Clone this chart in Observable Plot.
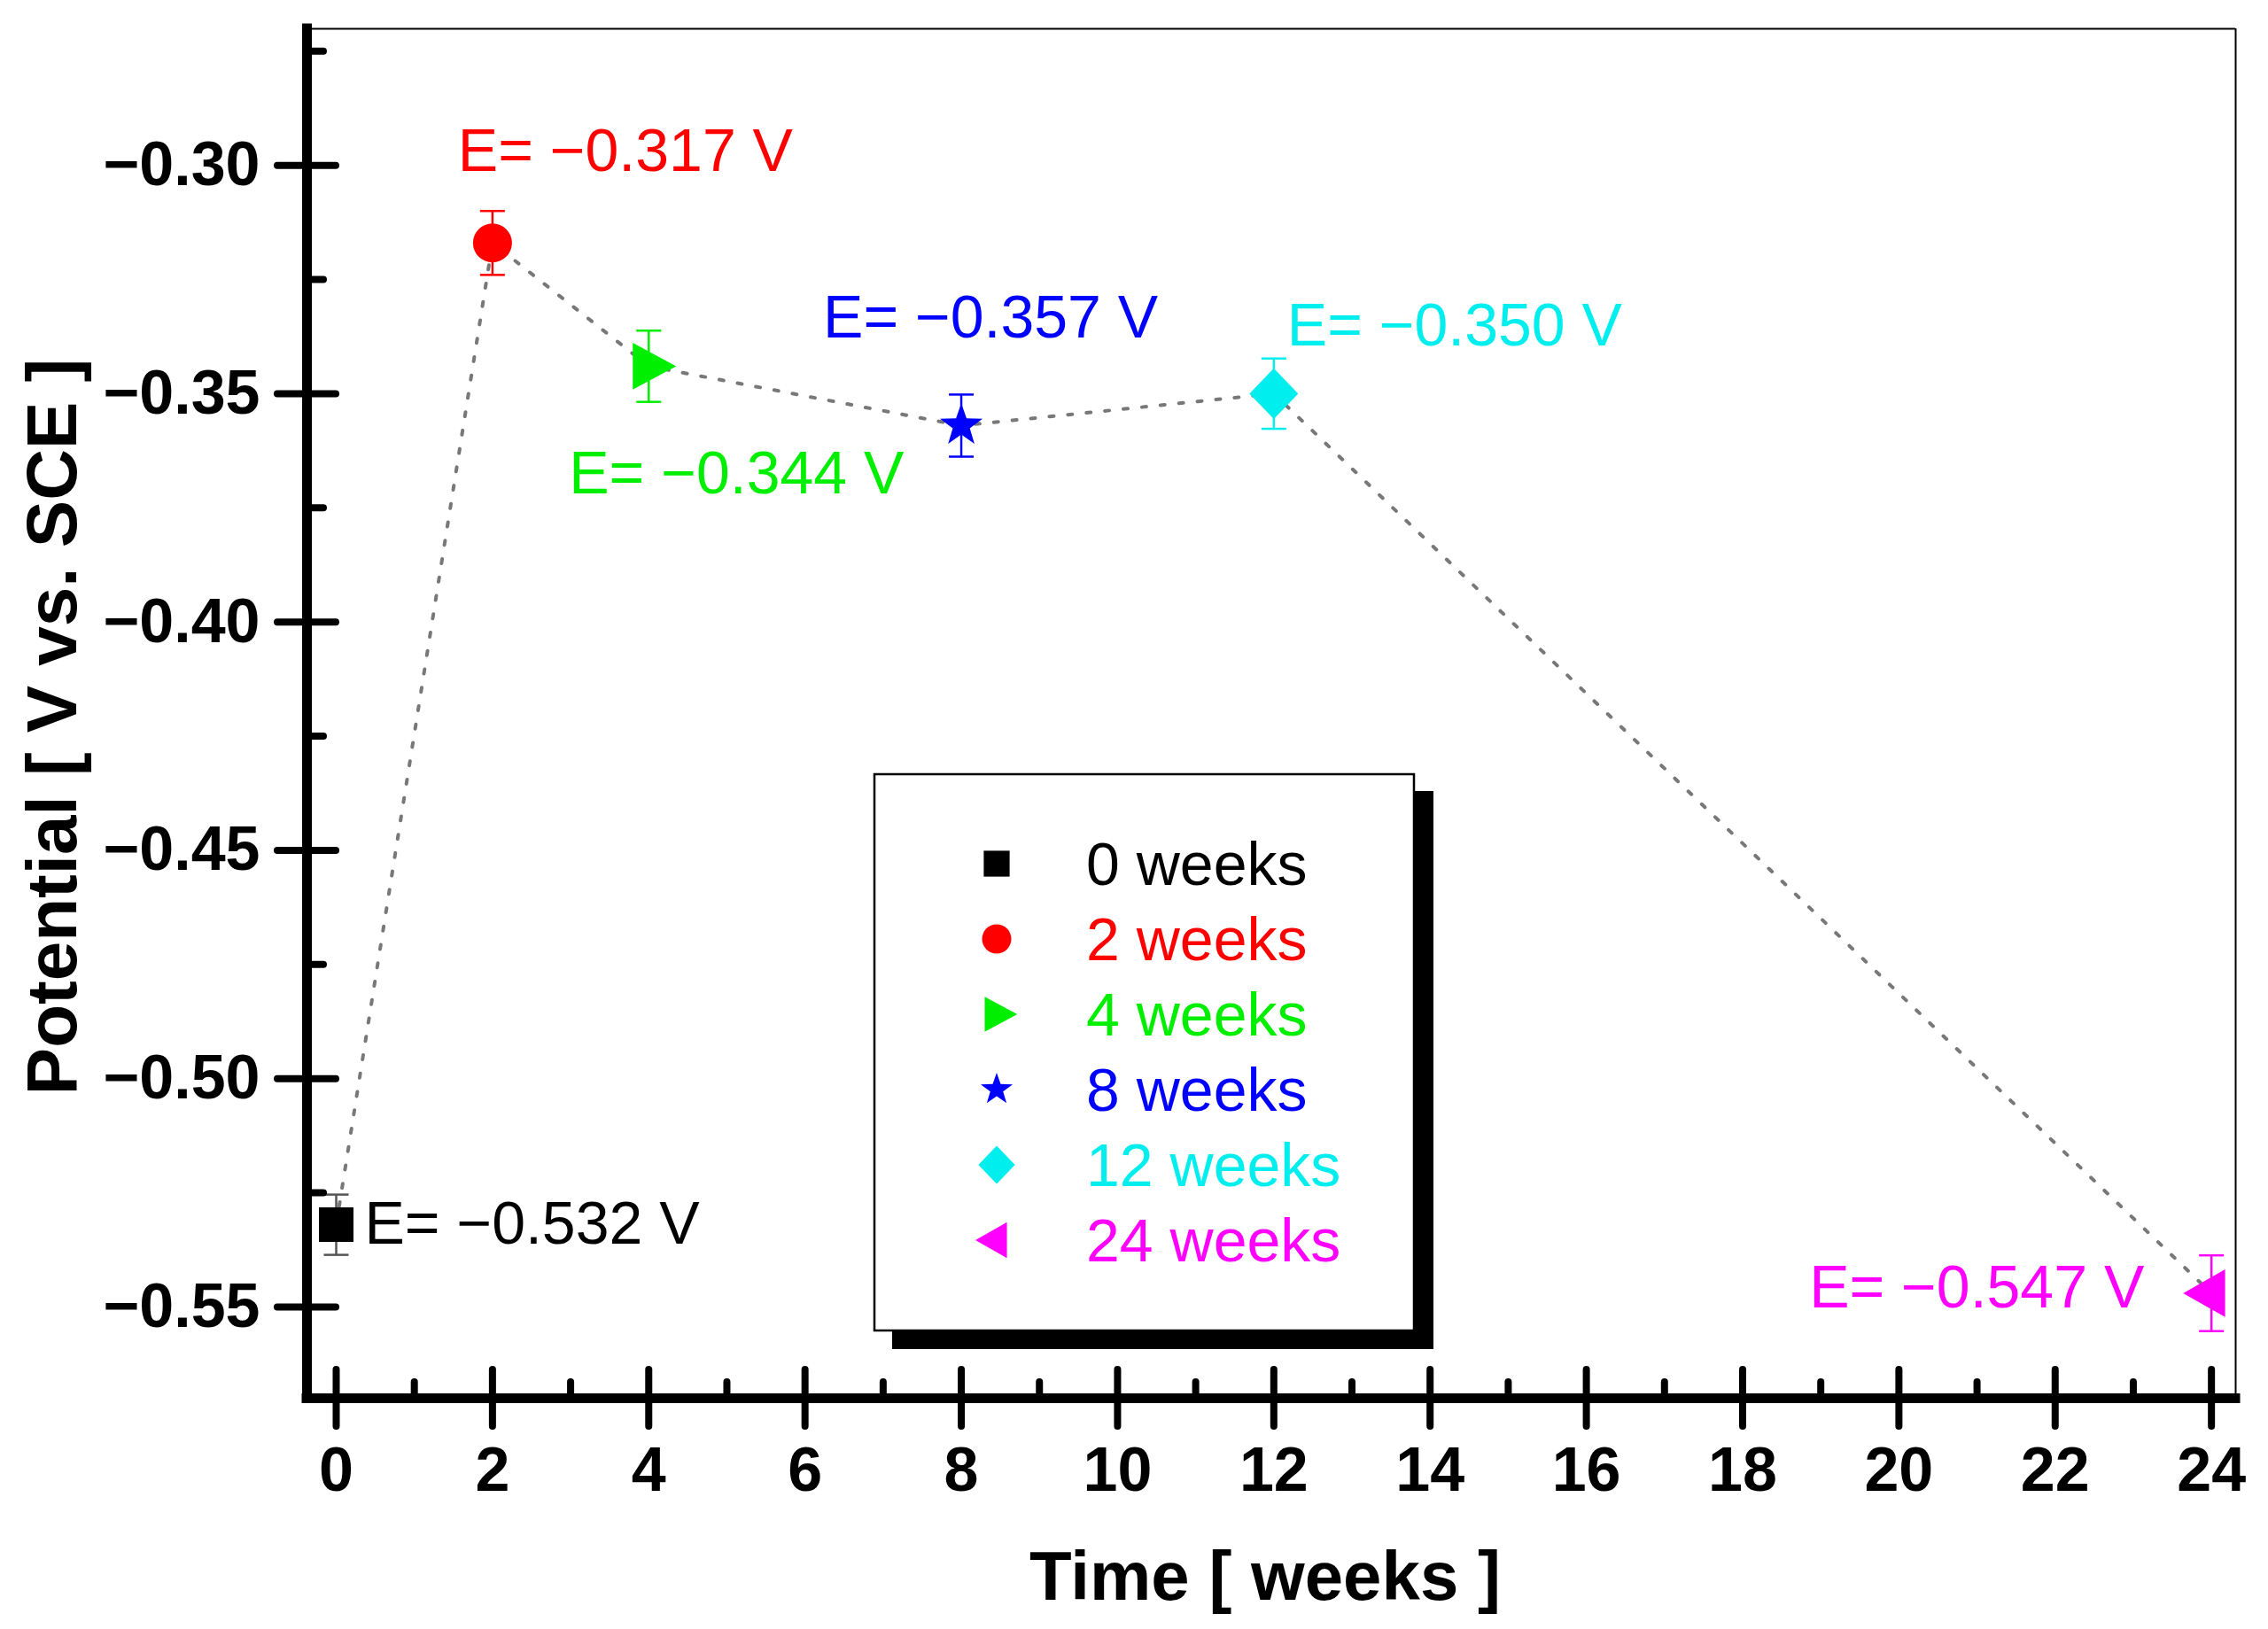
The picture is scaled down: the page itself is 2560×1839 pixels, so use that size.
<!DOCTYPE html>
<html>
<head>
<meta charset="utf-8">
<script src="https://cdn.jsdelivr.net/npm/d3@7"></script>
<script src="https://cdn.jsdelivr.net/npm/@observablehq/plot@0.6"></script>
<style>
  html, body { margin: 0; padding: 0; background: #ffffff; }
  #chart svg { display: block; }
</style>
</head>
<body>
<div id="chart"></div>
<script>
// ---------------- data ----------------
const weeks = [0, 2, 4, 8, 12, 24];
const potential = [-0.532, -0.317, -0.344, -0.357, -0.350, -0.547];
const potentialError = [0.0066, 0.0070, 0.0078, 0.0068, 0.0077, 0.0083];
const seriesNames = ["0 weeks", "2 weeks", "4 weeks", "8 weeks", "12 weeks", "24 weeks"];
const annotations = ["E= −0.532 V", "E= −0.317 V", "E= −0.344 V", "E= −0.357 V", "E= −0.350 V", "E= −0.547 V"];
const xTicks = [0, 2, 4, 6, 8, 10, 12, 14, 16, 18, 20, 22, 24];
const xMinorTicks = [1, 3, 5, 7, 9, 11, 13, 15, 17, 19, 21, 23];
const yTicks = [-0.55, -0.50, -0.45, -0.40, -0.35, -0.30];
const yMinorTicks = [-0.525, -0.475, -0.425, -0.375, -0.325, -0.275];
const xDomain = [-0.374, 24.31];
const yDomain = [-0.570, -0.2701];
const xTitle = "Time [ weeks ]";
const yTitle = "Potential [ V vs. SCE ]";

// ---------------- styles ----------------
const colors = ["#000000", "#ff0000", "#00ee00", "#0000ff", "#00eeee", "#ff00ff"];
const errColors = ["#555555", "#ff0000", "#00ee00", "#0000ff", "#00eeee", "#ff00ff"];
const labelOffsets = [[32, 21], [-39, -81], [-90, 144], [-156, -99], [15, -54], [-454, 16]];

function polySymbol(pts) {
  return {
    draw(ctx, size) {
      const r = Math.sqrt(size / Math.PI);
      ctx.moveTo(pts[0][0] * r, pts[0][1] * r);
      for (let k = 1; k < pts.length; ++k) ctx.lineTo(pts[k][0] * r, pts[k][1] * r);
      ctx.closePath();
    }
  };
}
const triRight = polySymbol([[-0.82, -1.2], [1.41, 0], [-0.82, 1.2]]);
const triLeft = polySymbol([[0.7, -1.22], [-1.45, 0], [0.7, 1.22]]);
const diamond = polySymbol([[0, -1.3], [1.25, 0], [0, 1.3], [-1.25, 0]]);
const starPts = d3.range(10).map(k => {
  const a = -Math.PI / 2 + k * Math.PI / 5;
  const rr = k % 2 === 0 ? 1.15 : 0.46;
  return [rr * Math.cos(a), rr * Math.sin(a)];
});
const star = polySymbol(starPts);
const capSymbol = {
  draw(ctx, size) {
    const r = Math.sqrt(size / Math.PI);
    ctx.moveTo(-r, 0);
    ctx.lineTo(r, 0);
  }
};
const symbols = [d3.symbolSquare, d3.symbolCircle, triRight, star, diamond, triLeft];

const idx = d3.range(weeks.length);
const X = i => weeks[i];
const Y = i => potential[i];

const marks = [
  // thin top/right border
  Plot.ruleY([yDomain[1]], {stroke: "#000", strokeWidth: 2}),
  Plot.ruleX([xDomain[1]], {stroke: "#000", strokeWidth: 2}),
  // dotted connecting line
  Plot.line(idx, {x: X, y: Y, stroke: "#787878", strokeWidth: 4, strokeDasharray: "5,16"}),
  // error bars
  Plot.ruleX(idx, {x: X, y1: i => potential[i] - potentialError[i], y2: i => potential[i] + potentialError[i],
    stroke: i => errColors[i], strokeWidth: 2.5}),
  Plot.dot(idx, {x: X, y: i => potential[i] + potentialError[i], symbol: capSymbol, r: 14,
    fill: "none", stroke: i => errColors[i], strokeWidth: 2.5}),
  Plot.dot(idx, {x: X, y: i => potential[i] - potentialError[i], symbol: capSymbol, r: 14,
    fill: "none", stroke: i => errColors[i], strokeWidth: 2.5}),
  // points
  ...idx.map(i => Plot.dot([i], {x: X, y: Y, symbol: symbols[i], r: 22, fill: colors[i], stroke: "none"})),
  // annotations
  ...idx.map(i => Plot.text([i], {x: X, y: Y, text: j => annotations[j], fill: colors[i],
    fontSize: 68, textAnchor: "start", lineAnchor: "bottom", dx: labelOffsets[i][0], dy: labelOffsets[i][1]})),
  // axes
  Plot.axisX(xTicks, {anchor: "bottom", tickSize: 32, tickPadding: 23, strokeWidth: 8, strokeLinecap: "round",
    fontSize: 70, fontWeight: "bold", tickFormat: d => String(d), label: null}),
  Plot.axisX(xTicks, {anchor: "bottom", tickSize: -32, strokeWidth: 8, strokeLinecap: "round",
    tickFormat: () => "", label: null}),
  Plot.axisX(xMinorTicks, {anchor: "bottom", tickSize: -18, strokeWidth: 8, strokeLinecap: "round",
    tickFormat: () => "", label: null}),
  Plot.axisY(yTicks, {anchor: "left", tickSize: 33, tickPadding: 20, strokeWidth: 8, strokeLinecap: "round",
    fontSize: 70, fontWeight: "bold", tickFormat: d3.format(".2f"), label: null}),
  Plot.axisY(yTicks, {anchor: "left", tickSize: -33, strokeWidth: 8, strokeLinecap: "round",
    tickFormat: () => "", label: null}),
  Plot.axisY(yMinorTicks, {anchor: "left", tickSize: -19, strokeWidth: 8, strokeLinecap: "round",
    tickFormat: () => "", label: null}),
  // thick axis lines
  Plot.ruleX([xDomain[0]], {stroke: "#000", strokeWidth: 11, strokeLinecap: "square"}),
  Plot.ruleY([yDomain[0]], {stroke: "#000", strokeWidth: 11, strokeLinecap: "square"}),
  // axis titles
  Plot.text([yTitle], {text: d => d, frameAnchor: "left", rotate: -90, dx: -261, dy: 15,
    fontSize: 80, fontWeight: "bold", textAnchor: "middle", lineAnchor: "bottom", fill: "#000"}),
  Plot.text([xTitle], {text: d => d, frameAnchor: "bottom", dx: -7, dy: 227,
    fontSize: 78, fontWeight: "bold", textAnchor: "middle", lineAnchor: "bottom", fill: "#000"})
];

const chart = Plot.plot({
  width: 2560,
  height: 1839,
  marginLeft: 346,
  marginRight: 37,
  marginTop: 32,
  marginBottom: 261,
  x: {domain: xDomain},
  y: {domain: yDomain},
  color: {type: "identity"},
  style: {fontFamily: "'Liberation Sans', Arial, sans-serif", background: "#ffffff", overflow: "visible"},
  marks
});

document.getElementById("chart").appendChild(chart);

// ---------------- legend (inside the plot) ----------------
const svg = d3.select(chart.tagName.toLowerCase() === "svg" ? chart : chart.querySelector("svg"));
const lg = svg.append("g").attr("class", "legend").attr("text-anchor", "start");
lg.append("rect").attr("x", 1007).attr("y", 893).attr("width", 611).attr("height", 630).attr("fill", "#000");
lg.append("rect").attr("x", 987).attr("y", 874).attr("width", 609).attr("height", 628)
  .attr("fill", "#fff").attr("stroke", "#000").attr("stroke-width", 2.5);
seriesNames.forEach((name, i) => {
  const cy = 975 + 85 * i;
  lg.append("path")
    .attr("transform", `translate(1125,${cy})`)
    .attr("d", d3.symbol(symbols[i], Math.PI * 16.5 * 16.5)())
    .attr("fill", colors[i]);
  lg.append("text")
    .attr("x", 1226).attr("y", cy + 24)
    .attr("text-anchor", "start")
    .attr("fill", colors[i])
    .attr("font-size", 68)
    .attr("font-family", "'Liberation Sans', Arial, sans-serif")
    .text(name);
});
</script>
</body>
</html>
